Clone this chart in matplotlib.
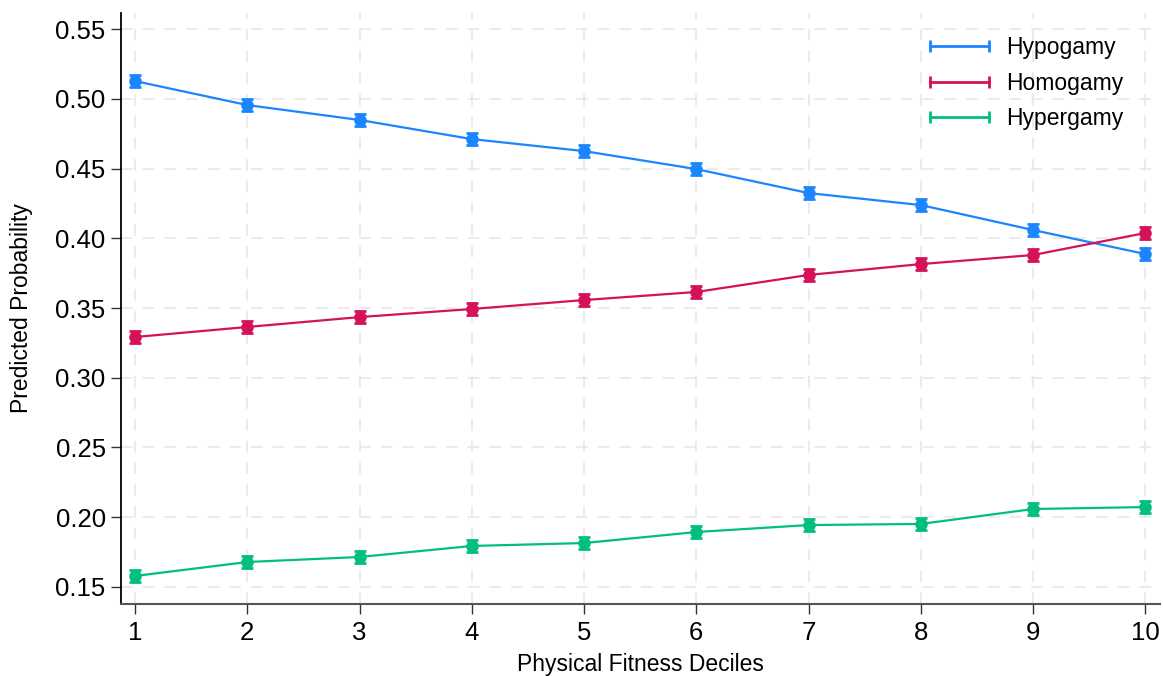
import numpy as np
import matplotlib
matplotlib.use('Agg')
import matplotlib.pyplot as plt
from matplotlib.lines import Line2D

# ── data ──
deciles = [1, 2, 3, 4, 5, 6, 7, 8, 9, 10]
hypogamy = [0.5127, 0.4955, 0.4848, 0.4711, 0.4625, 0.4496, 0.4324, 0.4238, 0.4059, 0.3887]
homogamy = [0.3292, 0.3364, 0.3435, 0.3493, 0.3557, 0.3615, 0.3737, 0.3815, 0.3880, 0.4038]
hypergamy = [0.1579, 0.1679, 0.1715, 0.1794, 0.1815, 0.1894, 0.1944, 0.1952, 0.2059, 0.2073]
ci_half = [0.0045, 0.0045, 0.0045, 0.0045, 0.0045, 0.0045, 0.0045, 0.0045, 0.0045, 0.0045]
yticks = [0.15, 0.20, 0.25, 0.30, 0.35, 0.40, 0.45, 0.50, 0.55]

series = [('Hypogamy', hypogamy, '#1a85ff'),
          ('Homogamy', homogamy, '#d41159'),
          ('Hypergamy', hypergamy, '#00bf7f')]

plt.rcParams['font.family'] = ['Liberation Sans', 'DejaVu Sans']

fig = plt.figure(figsize=(11.63, 6.76), dpi=100)
ax = fig.add_axes([121 / 1163, 1 - 604 / 676, (1160 - 121) / 1163, (604 - 13) / 676])

handles = []
for name, vals, col in series:
    ax.errorbar(deciles, vals, yerr=ci_half, color=col, lw=1.6, marker='o', ms=8,
                elinewidth=2.4, capsize=4, capthick=2)
    handles.append(Line2D([], [], color=col, lw=2, marker='|', ms=9, mew=2, label=name))

ax.set_xlim(0.875, 10.13)
ax.set_ylim(0.1378, 0.5615)
ax.set_xticks(deciles)
ax.set_yticks(yticks)
ax.set_yticklabels([f'{t:.2f}' for t in yticks])
ax.tick_params(axis='both', labelsize=18.5, length=7, width=1, color='#333333')
ax.tick_params(axis='x', pad=5)
ax.tick_params(axis='y', pad=4)

ax.grid(True, ls=(0, (7, 6)), color='#e8e8e8', lw=1.2)
ax.set_axisbelow(True)
for s in ['top', 'right']:
    ax.spines[s].set_visible(False)
ax.spines['left'].set_color('black')
ax.spines['bottom'].set_color('#555555')
ax.spines['left'].set_linewidth(1.3)
ax.spines['bottom'].set_linewidth(1.5)

ax.set_ylabel('Predicted Probability', fontsize=16.5, labelpad=16)
ax.set_xlabel('Physical Fitness Deciles', fontsize=16.5, labelpad=6)

ax.legend(handles=handles, loc='upper right', frameon=False, fontsize=16.5,
          handlelength=3.2, numpoints=2, labelspacing=0.55, handletextpad=0.45,
          bbox_to_anchor=(0.985, 0.996))

fig.savefig('out.png', dpi=100)
